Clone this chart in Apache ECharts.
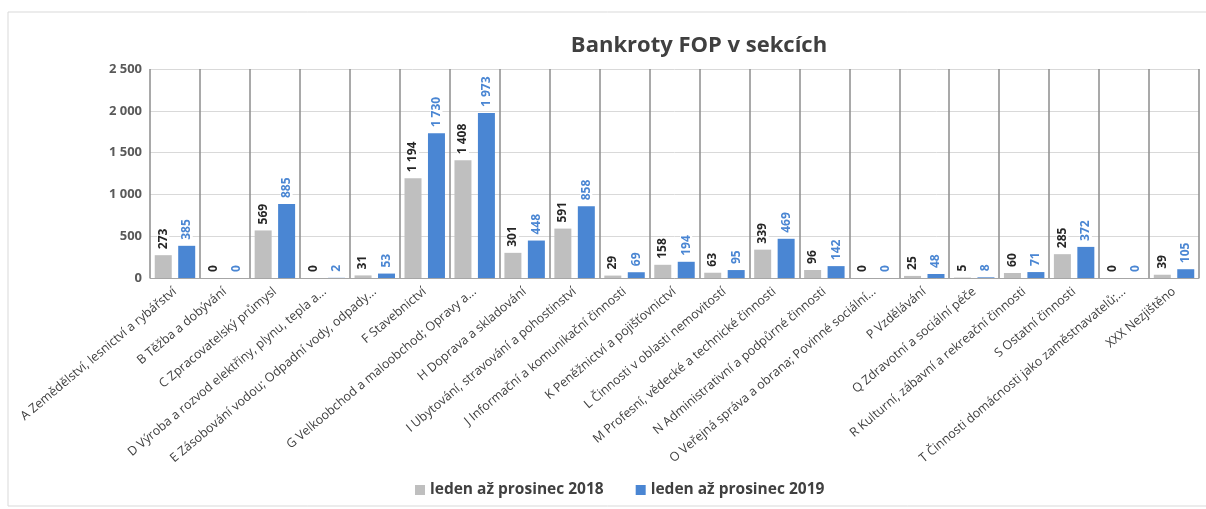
<!DOCTYPE html>
<html><head><meta charset="utf-8">
<script src="https://cdn.jsdelivr.net/npm/echarts@6/dist/echarts.min.js"></script>
<style>html,body{margin:0;padding:0;background:#fff}#c{width:1206px;height:509px}</style>
</head><body><div id="c"></div>
<script>
const categories = [
 'A Zemědělství, lesnictví a rybářství',
 'B Těžba a dobývání',
 'C Zpracovatelský průmysl',
 'D Výroba a rozvod elektřiny, plynu, tepla a...',
 'E Zásobování vodou; Odpadní vody, odpady...',
 'F Stavebnictví',
 'G Velkoobchod a maloobchod; Opravy a...',
 'H Doprava a skladování',
 'I Ubytování, stravování a pohostinství',
 'J Informační a komunikační činnosti',
 'K Peněžnictví a pojišťovnictví',
 'L Činnosti v oblasti nemovitostí',
 'M Profesní, vědecké a technické činnosti',
 'N Administrativní a podpůrné činnosti',
 'O Veřejná správa a obrana; Povinné sociální...',
 'P Vzdělávání',
 'Q Zdravotní a sociální péče',
 'R Kulturní, zábavní a rekreační činnosti',
 'S Ostatní činnosti',
 'T Činnosti domácnosti jako zaměstnavatelů;...',
 'XXX Nezjištěno'
];
const values2018 = [273,0,569,0,31,1194,1408,301,591,29,158,63,339,96,0,25,5,60,285,0,39];
const values2019 = [385,0,885,2,53,1730,1973,448,858,69,194,95,469,142,0,48,8,71,372,0,105];
const seriesNames = ['leden až prosinec 2018','leden až prosinec 2019'];
const yTicks = {min:0, max:2500, interval:500};

function fmt(v){ return String(v).replace(/\B(?=(\d{3})+(?!\d))/g,' '); }
const font = '"Open Sans", "Noto Sans", sans-serif';
const chart = echarts.init(document.getElementById('c'));
function lbl(color){
  return {show:true, position:'top', rotate:90, align:'left', verticalAlign:'middle', distance:5,
    color:color, fontWeight:'bold', fontSize:12, fontFamily:font,
    backgroundColor:'#fff', padding:[0,1,0,1], formatter:p=>fmt(p.value)};
}
chart.setOption({
  animation:false,
  graphic:[{type:'rect', shape:{x:8,y:12,width:1200,height:494}, style:{fill:'none', stroke:'#d9d9d9', lineWidth:1}}],
  title:{text:'Bankroty FOP v sekcích', left:694, top:30, textAlign:'center',
    textStyle:{fontFamily:font, fontSize:22, fontWeight:'bold', color:'#404040'}},
  legend:{bottom:6, left:410, itemWidth:10, itemHeight:10, itemGap:32, icon:'rect',
    textStyle:{fontFamily:font, fontSize:15.5, fontWeight:'bold', color:'#404040'}},
  grid:{left:150, right:7, top:69, bottom:231},
  xAxis:{type:'category', data:categories,
    axisLine:{lineStyle:{color:'#a6a6a6'}}, axisTick:{show:false},
    splitLine:{show:true, lineStyle:{color:'#8c8c8c', width:1.5}},
    axisLabel:{rotate:40, interval:0, fontFamily:font, fontSize:12.5, color:'#404040', margin:12}},
  yAxis:{type:'value', min:yTicks.min, max:yTicks.max, interval:yTicks.interval,
    axisLine:{show:false}, axisTick:{show:false},
    splitLine:{lineStyle:{color:'#d9d9d9'}},
    axisLabel:{fontFamily:font, fontSize:13, fontWeight:'bold', color:'#595959', margin:8, formatter:v=>fmt(v)}},
  series:[
    {name:seriesNames[0], type:'bar', data:values2018, barWidth:17, barGap:'38%', itemStyle:{color:'#bfbfbf'}, label:lbl('#262626')},
    {name:seriesNames[1], type:'bar', data:values2019, barWidth:17, itemStyle:{color:'#4a86d3'}, label:lbl('#4a86d3')}
  ]
});
</script></body></html>
